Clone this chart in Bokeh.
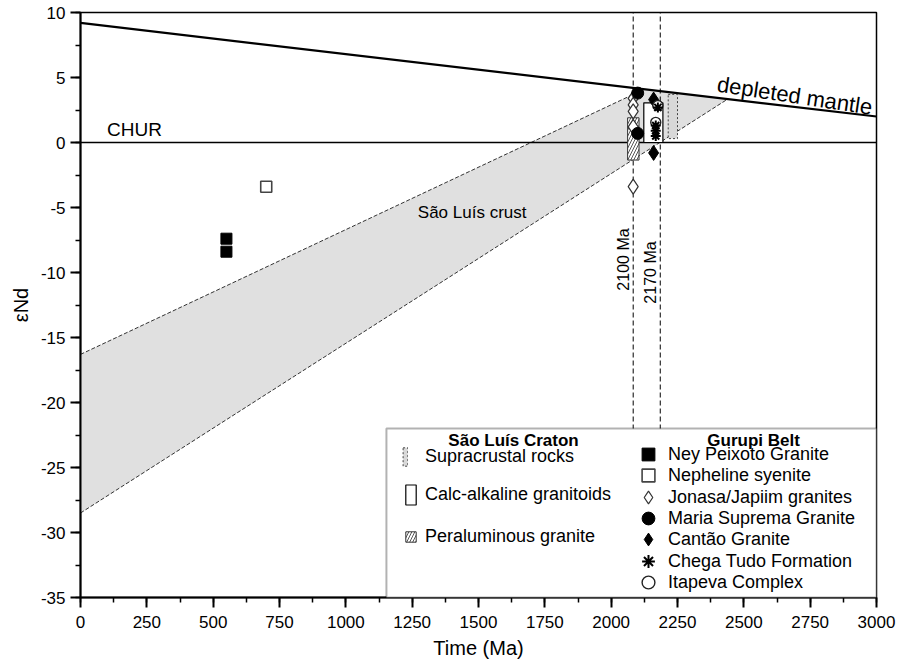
import math
from bokeh.plotting import figure
from bokeh.models import (FixedTicker, Range1d, Label, Legend, LegendItem,
                          BoxAnnotation)
from bokeh.embed import file_html
from bokeh.resources import INLINE

FONT = "Liberation Sans"

# ---- axes ----
x_ticks = list(range(0, 3001, 250))
x_minor = list(range(0, 3001, 125))
y_ticks = list(range(-35, 11, 5))
y_minor = [v / 2 for v in range(-70, 21, 5)]

# ---- reference curves ----
dm_x = [0, 3000]
dm_y = [9.2, 2.0]
chur_x = [0, 3000]
chur_y = [0, 0]
crust_upper_x = [0, 2125]
crust_upper_y = [-16.3, 4.1]
crust_lower_x = [0, 2440]
crust_lower_y = [-28.5, 3.35]
age_lines = [2083, 2185]
age_labels = ["2100 Ma", "2170 Ma"]

# ---- São Luís Craton ranges (boxes) ----
supra_x = [2215, 2250]
supra_y = [0.3, 3.7]
calc_x = [2123, 2195]
calc_y = [0.0, 3.05]
peral_x = [2062, 2105]
peral_y = [-1.35, 1.9]

# ---- Gurupi Belt samples ----
ney_x = [550, 550]
ney_y = [-7.4, -8.4]
neph_x = [700]
neph_y = [-3.4]
jon_x = [2083, 2083, 2083, 2083, 2083]
jon_y = [3.4, 2.9, 2.4, 1.2, -3.4]
maria_x = [2100, 2100]
maria_y = [3.8, 0.7]
cantao_x = [2160, 2160]
cantao_y = [3.3, -0.8]
chega_x = [2176, 2168, 2168, 2168]
chega_y = [2.7, 1.3, 0.9, 0.5]
itap_x = [2176, 2168]
itap_y = [2.85, 1.55]

p = figure(width=897, height=663, x_range=Range1d(0, 3000), y_range=Range1d(-35, 10),
           output_backend="svg", toolbar_location=None,
           min_border_left=80, min_border_right=21, min_border_top=12, min_border_bottom=66)
p.background_fill_color = "white"
p.border_fill_color = "white"
p.outline_line_color = "black"
p.outline_line_width = 1.5
p.xgrid.visible = False
p.ygrid.visible = False

for ax in (p.xaxis[0], p.yaxis[0]):
    ax.axis_line_width = 2
    ax.major_tick_line_width = 2
    ax.minor_tick_line_width = 1.5
    ax.major_tick_in = 0
    ax.major_tick_out = 10
    ax.minor_tick_in = 0
    ax.minor_tick_out = 5
    ax.major_label_text_font = FONT
    ax.major_label_text_font_size = "17px"
    ax.major_label_text_color = "black"
    ax.axis_label_text_font = FONT
    ax.axis_label_text_font_size = "20px"
    ax.axis_label_text_font_style = "normal"
    ax.axis_label_text_color = "black"
p.xaxis.ticker = FixedTicker(ticks=x_ticks, minor_ticks=x_minor)
p.yaxis.ticker = FixedTicker(ticks=y_ticks, minor_ticks=y_minor)
p.yaxis.major_label_overrides = {t: str(t) for t in y_ticks}
p.xaxis.axis_label = "Time (Ma)"
p.yaxis.axis_label = "εNd"
p.xaxis.major_label_standoff = 8
p.yaxis.major_label_standoff = 5
p.xaxis.axis_label_standoff = 6
p.yaxis.axis_label_standoff = 6

# crust band
crust_px = crust_upper_x + crust_lower_x[::-1]
crust_py = crust_upper_y + crust_lower_y[::-1]
p.patch(crust_px, crust_py, fill_color="#e0e0e0", line_color=None)
p.line(crust_upper_x, crust_upper_y, line_color="#333333", line_width=1, line_dash="4 2")
p.line(crust_lower_x, crust_lower_y, line_color="#333333", line_width=1, line_dash="4 2")

# CHUR and depleted mantle
p.line(chur_x, chur_y, line_color="black", line_width=1.6)
p.line(dm_x, dm_y, line_color="black", line_width=2.2)

# age lines
p.segment(x0=age_lines, y0=[-35] * len(age_lines), x1=age_lines, y1=[10] * len(age_lines),
          line_color="black", line_width=1, line_dash="5 3")

# range boxes
r_supra = p.quad(left=[supra_x[0]], right=[supra_x[1]], bottom=[supra_y[0]], top=[supra_y[1]],
                 fill_color="#d8d8d8", line_color="#444444", line_width=1, line_dash="2 2")
r_calc = p.quad(left=[calc_x[0]], right=[calc_x[1]], bottom=[calc_y[0]], top=[calc_y[1]],
                fill_color="white", line_color="black", line_width=1.2)
r_peral = p.quad(left=[peral_x[0]], right=[peral_x[1]], bottom=[peral_y[0]], top=[peral_y[1]],
                 fill_color="white", line_color="#333333", line_width=1,
                 hatch_pattern="/", hatch_color="#555555", hatch_scale=6, hatch_weight=1)

# samples
r_ney = p.scatter(ney_x, ney_y, marker="square", size=11, fill_color="black", line_color="black")
r_neph = p.scatter(neph_x, neph_y, marker="square", size=11, fill_color="white",
                   line_color="#444444", line_width=1.6)
r_jon = p.scatter(jon_x, jon_y, marker="diamond", size=15, fill_color="white",
                  line_color="#333333", line_width=1.2)
r_maria = p.scatter(maria_x, maria_y, marker="circle", size=12, fill_color="black", line_color="black")
r_cantao = p.scatter(cantao_x, cantao_y, marker="diamond", size=15, fill_color="black", line_color="black")
r_itap = p.scatter(itap_x, itap_y, marker="circle", size=10, fill_color="white",
                   line_color="#222222", line_width=1.4)
r_chega = p.scatter(chega_x, chega_y, marker="asterisk", size=10, line_color="black", line_width=2)

# text labels
p.add_layout(Label(x=100, y=1.0, text="CHUR", text_font=FONT, text_font_size="19px",
                   text_color="black", text_align="left", text_baseline="alphabetic"))
p.add_layout(Label(x=1476, y=-5.4, text="São Luís crust", text_font=FONT, text_font_size="17px",
                   text_color="black", text_align="center", text_baseline="alphabetic"))
p.add_layout(Label(x=2400, y=4.5, text="depleted mantle", text_font=FONT, text_font_size="22px",
                   text_color="black", text_align="left", text_baseline="alphabetic", angle=-0.15))
for xv, lab, yc in zip(age_lines, age_labels, [-9.0, -10.0]):
    p.add_layout(Label(x=xv, y=yc, text=lab, text_font=FONT, text_font_size="16px",
                       text_color="black", text_align="center", text_baseline="middle",
                       angle=math.pi / 2, x_offset=-10))

# legend frame
p.add_layout(BoxAnnotation(left=1153, right=3000, bottom=-35, top=-22, fill_color="white",
                           fill_alpha=1, line_color="black", line_width=2))
p.add_layout(Label(x=1632, y=-22.9, text="São Luís Craton", text_font=FONT, text_font_size="17px",
                   text_color="black", text_font_style="bold", text_align="center",
                   text_baseline="middle"))
p.add_layout(Label(x=2537, y=-22.9, text="Gurupi Belt", text_font=FONT, text_font_size="17px",
                   text_color="black", text_font_style="bold", text_align="center",
                   text_baseline="middle"))


def make_legend(items, loc, gw, gh, standoff):
    lg = Legend(items=items, location=loc, glyph_width=gw, glyph_height=gh,
                label_standoff=standoff, spacing=0, padding=0, margin=0,
                border_line_alpha=0, background_fill_alpha=0,
                label_text_font=FONT, label_text_font_size="18px",
                label_text_color="black", label_height=20)
    p.add_layout(lg)


make_legend([LegendItem(label="Supracrustal rocks", renderers=[r_supra])], (322, 129), 6, 23, 17)
make_legend([LegendItem(label="Calc-alkaline granitoids", renderers=[r_calc])], (324, 90), 13, 25, 8)
make_legend([LegendItem(label="Peraluminous granite", renderers=[r_peral])], (324, 50), 13, 13, 8)

gurupi_items = [
    ("Ney Peixoto Granite", r_ney),
    ("Nepheline syenite", r_neph),
    ("Jonasa/Japiim granites", r_jon),
    ("Maria Suprema Granite", r_maria),
    ("Cantão Granite", r_cantao),
    ("Chega Tudo Formation", r_chega),
    ("Itapeva Complex", r_itap),
]
row_step = 21.3
for i, (lab, rend) in enumerate(gurupi_items):
    make_legend([LegendItem(label=lab, renderers=[rend])],
                (552, round(127 - row_step * i)), 32, 32, 4)

open("out.html", "w").write(file_html(p, INLINE))
